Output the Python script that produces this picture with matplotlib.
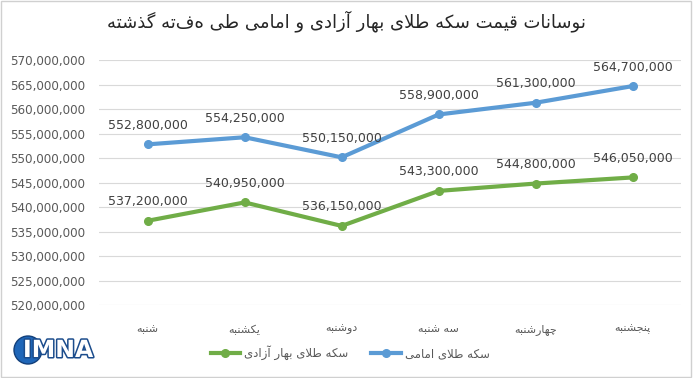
import matplotlib
matplotlib.use("Agg")
import matplotlib.pyplot as plt
from matplotlib.patches import Ellipse, Rectangle
import matplotlib.patheffects as pe

# data
days = ["شنبه", "یکشنبه", "دوشنبه", "سه شنبه", "چهارشنبه", "پنجشنبه"]
emami = [552800000, 554250000, 550150000, 558900000, 561300000, 564700000]
bahar = [537200000, 540950000, 536150000, 543300000, 544800000, 546050000]
title = "نوسانات قیمت سکه طلای بهار آزادی و امامی طی هفته گذشته"
name_emami = "سکه طلای امامی"
name_bahar = "سکه طلای بهار آزادی"
yticks = list(range(520000000, 570000001, 5000000))

# tiny persian shaper (no arabic_reshaper in the sandbox)
# isolated, final, initial, medial
FORMS = {
    "ا": ("\uFE8D", "\uFE8E"), "آ": ("\uFE81", "\uFE82"),
    "د": ("\uFEA9", "\uFEAA"), "ذ": ("\uFEAB", "\uFEAC"),
    "ر": ("\uFEAD", "\uFEAE"), "ز": ("\uFEAF", "\uFEB0"),
    "و": ("\uFEED", "\uFEEE"),
    "ب": ("\uFE8F", "\uFE90", "\uFE91", "\uFE92"),
    "پ": ("\uFB56", "\uFB57", "\uFB58", "\uFB59"),
    "ت": ("\uFE95", "\uFE96", "\uFE97", "\uFE98"),
    "ج": ("\uFE9D", "\uFE9E", "\uFE9F", "\uFEA0"),
    "چ": ("\uFB7A", "\uFB7B", "\uFB7C", "\uFB7D"),
    "س": ("\uFEB1", "\uFEB2", "\uFEB3", "\uFEB4"),
    "ش": ("\uFEB5", "\uFEB6", "\uFEB7", "\uFEB8"),
    "ط": ("\uFEC1", "\uFEC2", "\uFEC3", "\uFEC4"),
    "ق": ("\uFED5", "\uFED6", "\uFED7", "\uFED8"),
    "ک": ("\uFB8E", "\uFB8F", "\uFB90", "\uFB91"),
    "گ": ("\uFB92", "\uFB93", "\uFB94", "\uFB95"),
    "ل": ("\uFEDD", "\uFEDE", "\uFEDF", "\uFEE0"),
    "م": ("\uFEE1", "\uFEE2", "\uFEE3", "\uFEE4"),
    "ن": ("\uFEE5", "\uFEE6", "\uFEE7", "\uFEE8"),
    "ه": ("\uFEE9", "\uFEEA", "\uFEEB", "\uFEEC"),
    "ی": ("\uFBFC", "\uFBFD", "\uFBFE", "\uFBFF"),
}
LAMALEF = {"ا": ("\uFEFB", "\uFEFC"), "آ": ("\uFEF5", "\uFEF6")}


def fa(s):
    out = []
    i = 0
    n = len(s)
    while i < n:
        c = s[i]
        if c not in FORMS:
            out.append(c)
            i += 1
            continue
        prev = s[i - 1] if i > 0 else ""
        joins_prev = prev in FORMS and len(FORMS[prev]) == 4
        if c == "ل" and i + 1 < n and s[i + 1] in LAMALEF:
            out.append(LAMALEF[s[i + 1]][1 if joins_prev else 0])
            i += 2
            continue
        f = FORMS[c]
        nxt = s[i + 1] if i + 1 < n else ""
        joins_next = len(f) == 4 and nxt in FORMS
        if joins_prev and joins_next:
            out.append(f[3])
        elif joins_prev:
            out.append(f[1])
        elif joins_next:
            out.append(f[2])
        else:
            out.append(f[0])
        i += 1
    return "".join(out)[::-1]


blue = "#5B9BD5"
green = "#70AD47"
grid_c = "#D9D9D9"
text_c = "#595959"

W, H = 693, 378
fig = plt.figure(figsize=(W / 100, H / 100), dpi=100)
ax = fig.add_axes([0.143, 0.193, 0.840, 0.648])

x = list(range(len(days)))
ax.plot(x, emami, color=blue, lw=3, marker="o", ms=5.5, solid_capstyle="round")
ax.plot(x, bahar, color=green, lw=3, marker="o", ms=5.5, solid_capstyle="round")

for xi, v in zip(x, emami):
    ax.annotate(f"{v:,}", (xi, v), xytext=(0, 9), textcoords="offset points",
                ha="center", va="bottom", fontsize=9, color="#404040")
for xi, v in zip(x, bahar):
    ax.annotate(f"{v:,}", (xi, v), xytext=(0, 9), textcoords="offset points",
                ha="center", va="bottom", fontsize=9, color="#404040")

ax.set_xlim(-0.5, len(days) - 0.5)
ax.set_ylim(520000000, 570000000)
ax.set_yticks(yticks)
ax.set_yticklabels([f"{t:,}" for t in yticks], fontsize=8.6, color=text_c)
ax.set_xticks(x)
ax.set_xticklabels([fa(d) for d in days], fontsize=8, color=text_c)
ax.tick_params(length=0)
ax.tick_params(axis="y", pad=10)
ax.tick_params(axis="x", pad=14)
ax.grid(axis="y", color=grid_c, lw=0.8)
ax.set_axisbelow(True)
for sp in ax.spines.values():
    sp.set_visible(False)

fig.text(0.5, 0.945, fa(title), ha="center", va="center", fontsize=13, color="#262626")

# legend, green first, line left of the text
fig.legend(
    [plt.Line2D([], [], color=green, lw=3, marker="o", ms=5.5),
     plt.Line2D([], [], color=blue, lw=3, marker="o", ms=5.5)],
    [fa(name_bahar), fa(name_emami)],
    loc="center", bbox_to_anchor=(0.505, 0.066), ncol=2, frameon=False,
    fontsize=8.5, labelcolor=text_c, handlelength=2.5, handletextpad=0.3,
    columnspacing=2.0, markerfirst=True)

# rough imna logo
fig.add_artist(Ellipse((28 / W, 1 - 350 / H), 28 / W, 28 / H, transform=fig.transFigure,
                       facecolor="#1F66B8", edgecolor="#123F7A", lw=1))
fig.text(58 / W, 1 - 350 / H, "IMNA", ha="center", va="center", fontsize=17,
         fontweight="bold", color="white",
         path_effects=[pe.withStroke(linewidth=2.2, foreground="#1B4C8C")])

fig.add_artist(Rectangle((0.002, 0.003), 0.995, 0.994, transform=fig.transFigure,
                         fill=False, edgecolor="#D0D0D0", lw=1))

fig.savefig("out.png", dpi=100)
